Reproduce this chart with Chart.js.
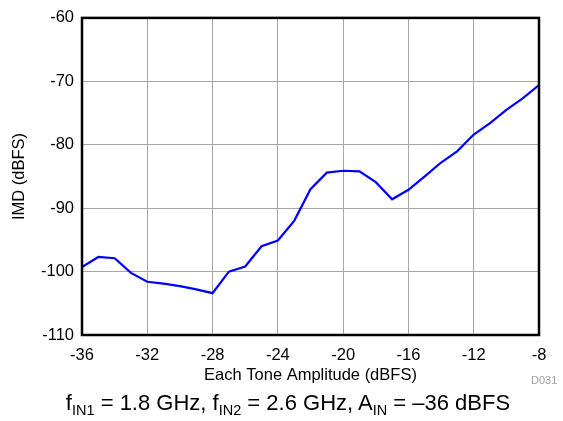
<!DOCTYPE html>
<html>
<head>
<meta charset="utf-8">
<script src="https://cdn.jsdelivr.net/npm/chart.js@4.4.1/dist/chart.umd.min.js"></script>
<style>
  html, body { margin: 0; padding: 0; background: #fff; }
  #wrap { position: relative; width: 563px; height: 421px; }
  canvas { position: absolute; left: 0; top: 0; }
  #sub { position: absolute; left: 0; width: 576px; top: 390px; text-align: center;
         font-family: "Liberation Sans", Arial, sans-serif; font-size: 22px; color: #000; white-space: nowrap; }
  #sub sub { font-size: 14.5px; vertical-align: -5px; line-height: 0; }
  #code { position: absolute; left: 531px; top: 374px; font-family: "Liberation Sans", Arial, sans-serif;
          font-size: 11px; color: #a0a0a0; }
</style>
</head>
<body>
<div id="wrap">
  <canvas id="c" width="563" height="421"></canvas>
  <div id="sub">f<sub>IN1</sub> = 1.8 GHz, f<sub>IN2</sub> = 2.6 GHz, A<sub>IN</sub> = –36 dBFS</div>
  <div id="code">D031</div>
</div>
<script>
const toneAmplitude = [-36, -35, -34, -33, -32, -31, -30, -29, -28, -27, -26, -25, -24, -23, -22, -21, -20, -19, -18, -17, -16, -15, -14, -13, -12, -11, -10, -9, -8];
const imd = [-99.3, -97.7, -97.9, -100.2, -101.6, -101.9, -102.3, -102.8, -103.4, -100.0, -99.2, -96.0, -95.1, -92.0, -87.0, -84.4, -84.1, -84.2, -85.9, -88.6, -87.1, -85.0, -82.8, -81.0, -78.4, -76.6, -74.5, -72.7, -70.6];
const xTicks = [-36, -32, -28, -24, -20, -16, -12, -8];
const yTicks = [-110, -100, -90, -80, -70, -60];

const FONT = '"Liberation Sans", Arial, sans-serif';

const borderPlugin = {
  id: 'border',
  afterDatasetsDraw(chart) {
    const a = chart.chartArea, ctx = chart.ctx;
    ctx.save();
    ctx.strokeStyle = '#000';
    ctx.lineWidth = 2.5;
    ctx.strokeRect(a.left, a.top, a.right - a.left, a.bottom - a.top);
    ctx.restore();
  }
};

new Chart(document.getElementById('c'), {
  type: 'line',
  data: {
    datasets: [{
      data: toneAmplitude.map((x, i) => ({ x: x, y: imd[i] })),
      borderColor: '#0000ff',
      borderWidth: 2.2,
      pointRadius: 0,
      tension: 0,
      fill: false
    }]
  },
  options: {
    responsive: false,
    animation: false,
    devicePixelRatio: 1,
    layout: { padding: { left: 0, right: 24, top: 13, bottom: 36 } },
    plugins: { legend: { display: false }, tooltip: { enabled: false } },
    scales: {
      x: {
        type: 'linear', min: -36, max: -8,
        afterBuildTicks(s) { s.ticks = xTicks.map(v => ({ value: v })); },
        afterFit(s) { s.height = 50; },
        grid: { color: '#a6a6a6', lineWidth: 1, drawTicks: false },
        border: { display: false },
        ticks: { color: '#000', font: { family: FONT, size: 16.5 }, padding: 11, maxRotation: 0, autoSkip: false },
        title: { display: true, text: 'Each Tone Amplitude (dBFS)', color: '#000',
                 font: { family: FONT, size: 16.5 }, padding: { top: 0, bottom: 0 } }
      },
      y: {
        type: 'linear', min: -110, max: -60,
        afterBuildTicks(s) { s.ticks = yTicks.map(v => ({ value: v })); },
        afterFit(s) { s.width = 82; },
        grid: { color: '#a6a6a6', lineWidth: 1, drawTicks: false },
        border: { display: false },
        ticks: { color: '#000', font: { family: FONT, size: 16.5 }, padding: 8 },
        title: { display: true, text: 'IMD (dBFS)', color: '#000',
                 font: { family: FONT, size: 16.5 }, padding: { top: 10, bottom: 0 } }
      }
    }
  },
  plugins: [borderPlugin]
});
</script>
</body>
</html>
